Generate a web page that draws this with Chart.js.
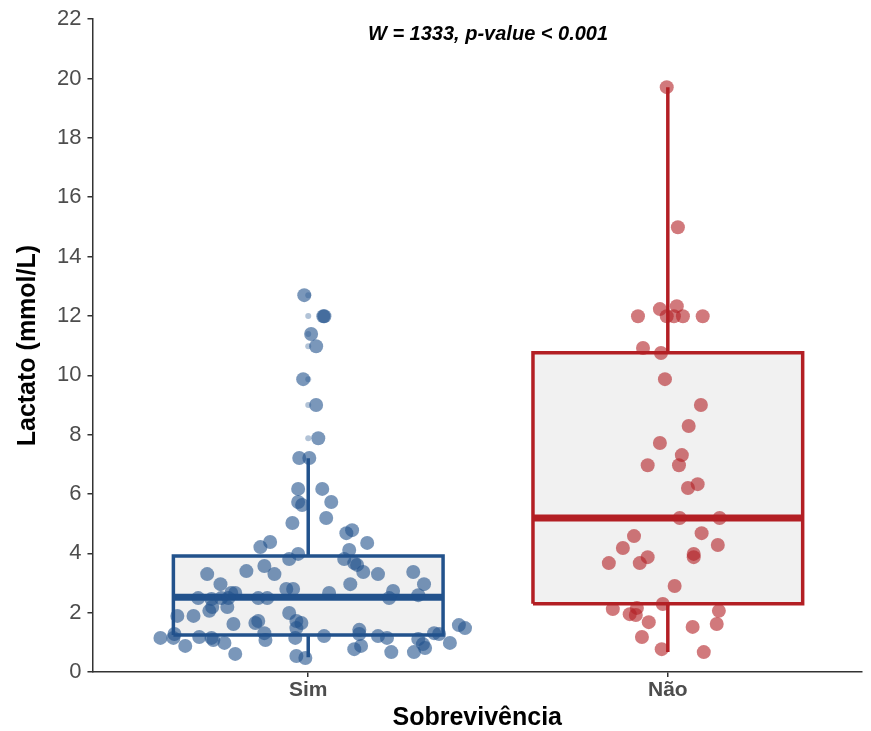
<!DOCTYPE html>
<html>
<head>
<meta charset="utf-8">
<script src="https://cdn.jsdelivr.net/npm/chart.js@4.4.1/dist/chart.umd.min.js"></script>
<style>
  body { margin: 0; background: #fff; }
  #wrap { width: 871px; height: 731px; }
</style>
</head>
<body>
<div id="wrap"><canvas id="lactato-chart"></canvas></div>
<script>
const categories = ['Sim', 'Não'];
const testLabel = 'W = 1333, p-value < 0.001';

// box stats per group: [min, q1, median, q3, max]
const simStats = [0.5, 1.25, 2.52, 3.91, 7.2];
const naoStats = [0.67, 2.3, 5.19, 10.76, 19.71];

// outliers of the Sim box (small points on the centre line)
const simOutliers = [12.7, 12.0, 11.39, 10.98, 9.87, 9.0, 7.88];

// jittered observations
const simX = [0.989, 1.042, 1.045, 1.008, 1.022, 0.986, 1.022, 1.028, 0.975, 1.003,
  0.972, 1.039, 0.972, 0.983, 1.064, 0.956, 1.05, 1.106, 1.122, 1.164,
  0.867, 0.894, 0.972, 0.947, 1.114, 1.1, 1.128, 1.136, 1.153, 1.194,
  1.292, 1.322, 1.117, 1.058, 1.236, 1.225, 1.306, 0.719, 0.828, 0.878,
  0.906, 0.756, 0.694, 0.731, 0.758, 0.786, 0.797, 0.778, 0.861, 0.886,
  0.939, 0.958, 0.636, 0.681, 0.725, 0.733, 0.775, 0.947, 0.967, 0.792,
  0.853, 0.861, 0.967, 0.878, 0.881, 0.964, 0.589, 0.625, 0.628, 0.697,
  0.731, 0.736, 0.767, 0.658, 0.797, 0.967, 0.992, 1.044, 1.142, 1.142,
  1.194, 1.219, 1.35, 1.364, 1.306, 1.319, 1.325, 1.128, 1.147, 1.231,
  1.294, 1.394, 1.419, 1.436, 0.981];
const simY = [12.7, 11.99, 11.99, 11.39, 10.98, 9.87, 9.0, 7.88, 7.21, 7.21,
  6.17, 6.17, 5.73, 5.63, 5.73, 5.02, 5.19, 4.68, 4.78, 4.35,
  4.21, 4.38, 3.98, 3.81, 4.11, 3.81, 3.67, 3.61, 3.37, 3.3,
  3.37, 2.96, 2.96, 2.66, 2.73, 2.49, 2.59, 3.3, 3.4, 3.57,
  3.3, 2.96, 2.49, 2.46, 2.49, 2.66, 2.66, 2.49, 2.49, 2.49,
  2.8, 2.8, 1.89, 1.89, 2.06, 2.19, 2.19, 1.99, 1.72, 1.62,
  1.65, 1.72, 1.48, 1.31, 1.08, 1.15, 1.15, 1.15, 1.28, 1.18,
  1.15, 1.08, 0.98, 0.88, 0.61, 0.54, 0.47, 1.21, 1.42, 1.28,
  1.21, 1.15, 1.31, 1.28, 1.11, 0.94, 0.81, 0.77, 0.88, 0.67,
  0.67, 0.98, 1.58, 1.48, 1.65];

const naoX = [1.997, 2.028, 1.917, 1.978, 2.025, 1.997, 2.017, 2.042, 2.097, 1.931,
  1.981, 1.992, 2.092, 2.058, 1.978, 2.039, 1.944, 2.031, 2.083, 2.056,
  2.033, 2.144, 1.906, 2.094, 1.875, 2.139, 1.944, 1.922, 1.836, 2.072,
  2.072, 2.019, 1.986, 1.847, 1.914, 1.894, 1.911, 2.142, 1.947, 2.136,
  2.069, 1.928, 1.983, 2.1];
const naoY = [19.71, 14.99, 11.99, 12.23, 12.33, 11.99, 11.99, 11.99, 11.99, 10.92,
  10.75, 9.87, 9.0, 8.29, 7.72, 7.31, 6.97, 6.97, 6.33, 6.2,
  5.19, 5.19, 4.58, 4.68, 4.18, 4.28, 3.87, 3.67, 3.67, 3.98,
  3.87, 2.9, 2.29, 2.12, 2.16, 1.95, 1.92, 2.06, 1.68, 1.62,
  1.52, 1.18, 0.77, 0.67];

const yTicks = [0, 2, 4, 6, 8, 10, 12, 14, 16, 18, 20, 22];

const BLUE = '#22528c';
const RED = '#b31f24';
const BOX_HALF = 0.375;
const FONT = '"Liberation Sans", Arial, sans-serif';

const zip = (xs, ys) => xs.map((x, i) => ({ x: x, y: ys[i] }));

const boxDatasets = (pos, stats, color) => {
    const [lo, q1, med, q3, hi] = stats;
    const line = (pts, width, order) => ({
        type: 'line',
        data: pts,
        borderColor: color,
        borderWidth: width,
        pointRadius: 0,
        fill: false,
        order: order,
    });
    return [
        {
            type: 'line',
            data: [
                { x: pos - BOX_HALF, y: q1 }, { x: pos + BOX_HALF, y: q1 },
                { x: pos + BOX_HALF, y: q3 }, { x: pos - BOX_HALF, y: q3 },
                { x: pos - BOX_HALF, y: q1 },
            ],
            borderColor: color,
            borderWidth: 3.5,
            borderJoinStyle: 'miter',
            backgroundColor: '#f1f1f1',
            fill: 'shape',
            pointRadius: 0,
            order: 5,
        },
        line([{ x: pos, y: q3 }, { x: pos, y: hi }], 3.5, 4),
        line([{ x: pos, y: lo }, { x: pos, y: q1 }], 3.5, 4),
        line([{ x: pos - BOX_HALF, y: med }, { x: pos + BOX_HALF, y: med }], 7, 3),
    ];
};

const testLabelPlugin = {
    id: 'testLabel',
    afterDatasetsDraw(chart) {
        const { ctx, scales } = chart;
        ctx.save();
        ctx.font = 'italic bold 20px ' + FONT;
        ctx.fillStyle = '#000';
        ctx.textAlign = 'center';
        ctx.textBaseline = 'middle';
        ctx.fillText(testLabel, scales.x.getPixelForValue(1.5), scales.y.getPixelForValue(21.5));
        ctx.restore();
    }
};

const lactatoChart = new Chart(document.getElementById('lactato-chart'), {
    type: 'scatter',
    data: {
        datasets: [
            ...boxDatasets(1, simStats, BLUE),
            ...boxDatasets(2, naoStats, RED),
            {
                data: simOutliers.map(v => ({ x: 1, y: v })),
                backgroundColor: 'rgba(34,82,140,0.35)',
                borderWidth: 0,
                pointRadius: 3,
                order: 2,
            },
            {
                data: zip(simX, simY),
                backgroundColor: 'rgba(34,82,140,0.6)',
                borderWidth: 0,
                pointRadius: 7,
                order: 1,
            },
            {
                data: zip(naoX, naoY),
                backgroundColor: 'rgba(179,31,36,0.6)',
                borderWidth: 0,
                pointRadius: 7,
                order: 1,
            },
        ]
    },
    options: {
        responsive: true,
        maintainAspectRatio: false,
        animation: false,
        layout: { padding: { top: 10, right: 9, left: 13, bottom: 0 } },
        plugins: {
            legend: { display: false },
            tooltip: { enabled: false },
        },
        scales: {
            x: {
                type: 'linear',
                min: 0.4,
                max: 2.54,
                afterBuildTicks: (axis) => {
                    axis.ticks = categories.map((c, i) => ({ value: i + 1 }));
                },
                ticks: {
                    callback: (v) => categories[v - 1],
                    color: '#4d4d4d',
                    font: { family: FONT, size: 21, weight: 'bold', lineHeight: 1 },
                    padding: 3,
                },
                grid: { drawOnChartArea: false, drawTicks: true, tickLength: 5, color: '#333', lineWidth: 1.5 },
                border: { display: true, color: '#333', width: 1.5 },
                title: {
                    display: true,
                    text: 'Sobrevivência',
                    color: '#000',
                    font: { family: FONT, size: 25, weight: 'bold', lineHeight: 1 },
                    padding: { top: 2, bottom: 0 },
                },
            },
            y: {
                min: 0,
                max: 22,
                afterBuildTicks: (axis) => {
                    axis.ticks = yTicks.map(v => ({ value: v }));
                },
                ticks: {
                    color: '#4d4d4d',
                    font: { family: FONT, size: 22 },
                    padding: 6,
                },
                grid: { drawOnChartArea: false, drawTicks: true, tickLength: 5, color: '#333', lineWidth: 1.5 },
                border: { display: true, color: '#333', width: 1.5 },
                title: {
                    display: true,
                    text: 'Lactato (mmol/L)',
                    color: '#000',
                    font: { family: FONT, size: 25, weight: 'bold', lineHeight: 1.2 },
                    padding: { top: 0, bottom: 8 },
                },
            },
        },
    },
    plugins: [testLabelPlugin],
});
</script>
</body>
</html>
